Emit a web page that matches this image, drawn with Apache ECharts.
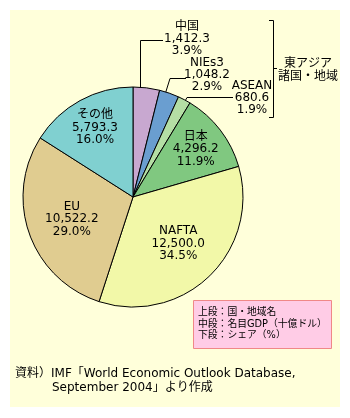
<!DOCTYPE html>
<html><head><meta charset="utf-8">
<script src="https://cdn.jsdelivr.net/npm/echarts@6/dist/echarts.min.js"></script>
<style>html,body{margin:0;padding:0;background:#fff}#c{width:350px;height:418px}</style>
</head><body><div id="c"></div>
<script>
const names = ['中国','NIEs3','ASEAN','日本','NAFTA','EU','その他'];
const gdp = [1412.3, 1048.2, 680.6, 4296.2, 12500.0, 10522.2, 5793.3];
const share = [3.9, 2.9, 1.9, 11.9, 34.5, 29.0, 16.0];
const colors = ['#C8A8D0','#6A9ED0','#B4DEA4','#80C880','#F2F8A8','#E0CC90','#80D0D0'];
const legendLines = ['上段：国・地域名','中段：名目GDP（十億ドル）','下段：シェア（%）'];
const sourceLines = ['資料）IMF「World Economic Outlook Database,','September 2004」より作成'];

const FONT = '"DejaVu Sans", "Noto Sans CJK JP", sans-serif';
const fmt = v => v.toLocaleString('en-US',{minimumFractionDigits:1,maximumFractionDigits:1});
const labelText = i => names[i] + '\n' + fmt(gdp[i]) + '\n' + share[i].toFixed(1) + '%';

const baseData = names.map((n,i)=>({name:n, value:gdp[i], itemStyle:{color:colors[i]}}));
function labelSeries(radius, show){
  return {
    type:'pie', center:[133,197], radius:[0,radius], startAngle:90, clockwise:true,
    silent:true, animation:false,
    itemStyle:{color:'rgba(0,0,0,0)', borderWidth:0},
    labelLine:{show:false},
    data: names.map((n,i)=>({name:n, value:gdp[i],
      label:{show: show.includes(n), position:'inside', formatter:()=>labelText(i),
        fontFamily:FONT, fontSize:12, lineHeight:12.5, color:'#000'}}))
  };
}
const small = [0,1,2];
const smallPos = [[187,27],[207,63],[252,86]];
const graphics = [
  {type:'rect', shape:{x:10,y:10,width:330,height:397}, style:{fill:'#FFFFDA'}, z:-10},
  {type:'rect', shape:{x:193.5,y:300.5,width:138,height:48}, style:{fill:'#FFCCE6', stroke:'#F08888', lineWidth:1}},
  {type:'text', x:198, y:307, style:{text:legendLines.join('\n'), font:'9.8px '+FONT, lineHeight:11.5, fill:'#000'}},
  {type:'text', x:15, y:368, style:{text:sourceLines[0], font:'12px '+FONT, fill:'#000'}},
  {type:'text', x:52, y:382, style:{text:sourceLines[1], font:'12px '+FONT, fill:'#000'}},
  // leader lines
  {type:'polyline', shape:{points:[[163,40.5],[140.5,40.5],[140.5,97]]}, style:{stroke:'#000',lineWidth:1,fill:null}},
  {type:'polyline', shape:{points:[[186,78.5],[170,78.5],[163,101]]}, style:{stroke:'#000',lineWidth:1,fill:null}},
  {type:'polyline', shape:{points:[[233,97.5],[187,97.5],[184,103]]}, style:{stroke:'#000',lineWidth:1,fill:null}},
  // bracket
  {type:'polyline', shape:{points:[[269,20.5],[273.5,20.5],[273.5,117.5],[269,117.5]]}, style:{stroke:'#000',lineWidth:1,fill:null}},
  {type:'line', shape:{x1:273,y1:68.5,x2:277,y2:68.5}, style:{stroke:'#000',lineWidth:1}},
  {type:'text', x:308, y:70, style:{text:'東アジア\n諸国・地域', font:'12px '+FONT, lineHeight:13, fill:'#000', align:'center', verticalAlign:'middle'}}
];
small.forEach((i,k)=>{
  graphics.push({type:'text', x:smallPos[k][0], y:smallPos[k][1]-6,
    style:{text:labelText(i), font:'12px '+FONT, lineHeight:12, fill:'#000', align:'center'}});
});

const chart = echarts.init(document.getElementById('c'), null, {renderer:'canvas'});
chart.setOption({
  animation:false,
  graphic: graphics,
  series:[
    {type:'pie', center:[133,197], radius:[0,110], startAngle:90, clockwise:true,
     label:{show:false}, labelLine:{show:false}, silent:true,
     itemStyle:{borderColor:'#000', borderWidth:1},
     emphasis:{disabled:true},
     data: baseData},
    labelSeries(152, ['日本','その他']),
    labelSeries(124, ['NAFTA','EU'])
  ]
});
</script></body></html>
